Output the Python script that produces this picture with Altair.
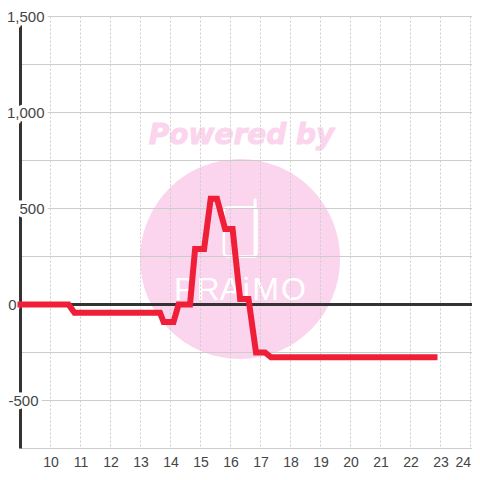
import altair as alt
import pandas as pd

line_x = [8.9, 10.6, 10.8, 13.65, 13.77, 14.1, 14.27, 14.65, 14.82, 15.12, 15.34, 15.55, 15.82, 16.07, 16.32, 16.6, 16.85, 17.15, 17.35, 22.9]
line_y = [0, 0, -43, -43, -91, -91, 0, 0, 289, 289, 551, 551, 393, 393, 29, 29, -250, -250, -275, -275]
x_ticks = list(range(10, 25))
y_grid = [-750, -500, -250, 250, 500, 750, 1000, 1250, 1500]
y_labels = [1500, 1000, 500, 0, -500]
y_texts = ["1,500", "1,000", "500", "0", "-500"]
y_dx = [24, 24, 24, -4, 18]
brand_letters = ["P", "R", "A", "i", "M", "O"]
brand_x = [14.47, 15.25, 16.0, 16.53, 17.17, 18.1]

PINK = "#fbd5ed"
X = alt.Scale(domain=[9, 24.05], nice=False, zero=False)
Y = alt.Scale(domain=[-750, 1500], nice=False, zero=False)
xe = alt.X("x:Q", scale=X, title=None,
           axis=alt.Axis(values=x_ticks, grid=False, domain=False, ticks=False, labelFont="Liberation Sans",
                         labelFontSize=14, labelColor="#444444", labelPadding=7, labelFlush=False,
                         labelBound=False, labelOverlap=False,
                         labelAlign={"condition": {"test": "datum.value == 24", "value": "right"}, "value": "center"}))
ye = alt.Y("y:Q", scale=Y, title=None, axis=None)

df = pd.DataFrame({"x": line_x, "y": line_y})

circle = alt.Chart(pd.DataFrame({"x": [16.32], "y": [237]})).mark_point(
    filled=True, shape="circle", size=40000, color=PINK, opacity=1).encode(x=xe, y=ye)
powered = alt.Chart(pd.DataFrame({"x": [16.37], "y": [880], "t": ["Powered by"]})).mark_text(
    font="DejaVu Sans", fontWeight="bold", fontStyle="italic", fontSize=28, color=PINK,
    stroke=PINK, strokeWidth=1, align="center", baseline="middle").encode(x=xe, y=ye, text="t:N")
brand = alt.Chart(pd.DataFrame({"x": brand_x, "y": [22] * 6, "t": brand_letters})).mark_text(
    font="Liberation Sans", fontSize=32, color="white",
    align="center", baseline="alphabetic").encode(x=xe, y=ye, text="t:N")
glass = alt.Chart(pd.DataFrame({"x": [15.78], "x2": [16.87], "y": [250], "y2": [507]})).mark_rect(
    fill=PINK, stroke="white", strokeWidth=2.5, cornerRadius=4).encode(
    x=xe, x2="x2:Q", y=ye, y2="y2:Q")
straw = alt.Chart(pd.DataFrame({"x": [16.82], "y": [250], "y2": [545]})).mark_rule(
    stroke="white", strokeWidth=3, strokeCap="round").encode(
    x=xe, y=ye, y2="y2:Q")

grid_h = alt.Chart(pd.DataFrame({"y": y_grid})).mark_rule(color="#cccccc", strokeWidth=1).encode(
    y=ye, x=alt.value(0), x2=alt.value(451.5))
grid_v = alt.Chart(pd.DataFrame({"x": x_ticks})).mark_rule(color="#cccccc", strokeWidth=1, strokeDash=[2, 2]).encode(
    x=xe, y=alt.value(0), y2=alt.value(432))
axis_v = alt.Chart(pd.DataFrame({"x": [9]})).mark_rule(color="#333333", strokeWidth=3).encode(
    x=xe, y=alt.value(0), y2=alt.value(432))
axis_h = alt.Chart(pd.DataFrame({"y": [0]})).mark_rule(color="#333333", strokeWidth=3).encode(
    y=ye, x=alt.value(0), x2=alt.value(451.5))

labels = []
for v, t, d in zip(y_labels, y_texts, y_dx):
    src = pd.DataFrame({"y": [v], "t": [t]})
    for halo in (True, False):
        kw = dict(stroke="white", strokeWidth=7, strokeJoin="miter") if halo else {}
        labels.append(alt.Chart(src).mark_text(
            font="Liberation Sans", fontSize=15, color="#444444", align="right",
            baseline="middle", dx=d, **kw).encode(x=alt.value(0), y=ye, text="t:N"))

line = alt.Chart(df).mark_line(color="#ef1f37", strokeWidth=6, strokeJoin="miter",
                               strokeCap="butt", clip=False).encode(x=xe, y=ye, order=alt.Order("x:Q"))

chart = alt.layer(circle, powered, brand, glass, straw, grid_h, grid_v, axis_v, axis_h,
                  *labels, line).properties(
    width=451.5, height=432,
    padding={"left": 12.5, "top": 8.5, "right": 0, "bottom": 23.5},
    autosize=alt.AutoSizeParams(type="none"),
).configure_view(stroke=None)

chart.save("out.html", embed_options={"renderer": "svg", "actions": False})
